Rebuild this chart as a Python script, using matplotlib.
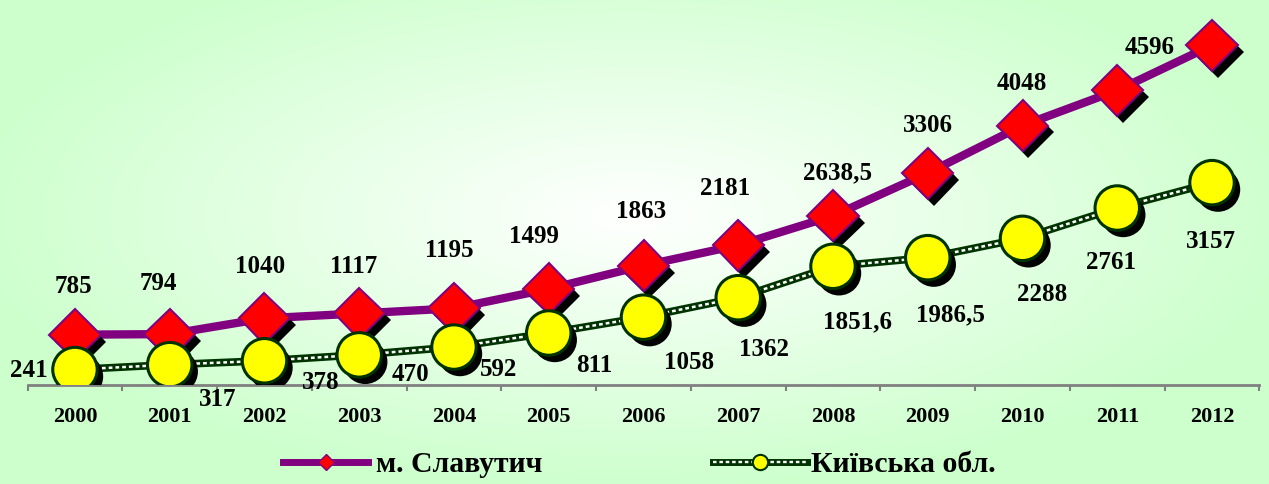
import numpy as np
import matplotlib
matplotlib.use("Agg")
import matplotlib.pyplot as plt
import matplotlib.patheffects as pe
from matplotlib.lines import Line2D
from matplotlib.legend_handler import HandlerTuple

# Data
years = ["2000", "2001", "2002", "2003", "2004", "2005", "2006",
         "2007", "2008", "2009", "2010", "2011", "2012"]
slavutych = [785, 794, 1040, 1117, 1195, 1499, 1863, 2181, 2638.5, 3306, 4048, 4596, 5300]
kyiv = [241, 317, 378, 470, 592, 811, 1058, 1362, 1851.6, 1986.5, 2288, 2761, 3157]
series_names = ["м. Славутич", "Київська обл."]

# Label offsets in pixels (dx, dy), dy positive = downwards
slav_offsets = [(-2, -48), (-11, -51), (-4, -52), (-6, -47), (-5, -58), (-15, -52), (-2, -54),
                (-13, -57), (4, -43), (0, -48), (-1, -42), (32, -43), (0, -52)]
kyiv_offsets = [(-46, 1), (48, 35), (56, 22), (51, 20), (45, 22), (46, 32), (46, 45),
                (26, 52), (24, 56), (23, 57), (20, 56), (-6, 54), (-1, 59)]

PURPLE = "#800080"
DGREEN = "#003300"
GRAY = "#808080"
SERIF = "Liberation Serif"


def fmt(v):
    return f"{v:g}".replace(".", ",")


W, H = 1269, 484
fig = plt.figure(figsize=(W / 100, H / 100), dpi=100)

# Background: radial gradient white -> light green
bg = fig.add_axes([0, 0, 1, 1], zorder=-10)
yy, xx = np.mgrid[0:H, 0:W]
d = np.sqrt(((xx - 630) / 680.0) ** 2 + ((yy - 215) / 280.0) ** 2)
t = np.clip(d, 0, 1)[..., None]
white = np.array([1.0, 1.0, 1.0])
green = np.array([204, 255, 204]) / 255.0
img = white * (1 - t) + green * t
bg.imshow(img, aspect="auto", extent=[0, W, H, 0])
bg.axis("off")

ax = fig.add_axes([27.6 / W, (H - 385) / H, 1231.8 / W, 385 / H])
ax.patch.set_alpha(0)
x = np.arange(len(years))

shadow = [pe.SimplePatchShadow(offset=(4.3, -5), shadow_rgbFace="black", alpha=1), pe.Normal()]

# Slavutych
ax.plot(x, slavutych, color=PURPLE, lw=6, zorder=2, solid_capstyle="round")
ax.plot(x, slavutych, ls="none", marker="D", ms=26, mfc="red", mec=PURPLE, mew=1.5,
        zorder=3, path_effects=shadow)

# Kyiv region (chain-like line)
ax.plot(x, kyiv, color=DGREEN, lw=5.5, zorder=4)
ax.plot(x, kyiv, color="white", lw=1.8, ls=(0, (1.5, 1.2)), zorder=4.1)
ax.plot(x, kyiv, ls="none", marker="o", ms=32, mfc="yellow", mec=DGREEN, mew=2.2,
        zorder=5, path_effects=shadow)

for i, v in enumerate(slavutych):
    dx, dy = slav_offsets[i]
    ax.annotate(fmt(v), (x[i], v), xytext=(dx, -dy), textcoords="offset pixels",
                ha="center", va="center", fontsize=18, fontweight="bold",
                family=SERIF, annotation_clip=False, zorder=6)
for i, v in enumerate(kyiv):
    dx, dy = kyiv_offsets[i]
    ax.annotate(fmt(v), (x[i], v), xytext=(dx, -dy), textcoords="offset pixels",
                ha="center", va="center", fontsize=18, fontweight="bold",
                family=SERIF, annotation_clip=False, zorder=6)

ax.set_xlim(-0.5, len(years) - 0.5)
ax.set_ylim(0, 6006)
for s in ["left", "top", "right"]:
    ax.spines[s].set_visible(False)
ax.spines["bottom"].set_color(GRAY)
ax.spines["bottom"].set_linewidth(2)
ax.set_yticks([])
ax.set_xticks(x)
ax.set_xticklabels(years, fontsize=16, fontweight="bold", family=SERIF)
ax.set_xticks(np.arange(-0.5, len(years), 1), minor=True)
ax.tick_params(axis="x", which="major", length=0, pad=15.5)
ax.tick_params(axis="x", which="minor", length=4.5, width=1.5, color=GRAY, direction="out")

# Legends
h1 = Line2D([], [], color=PURPLE, lw=5, marker="D", ms=8.5, mfc="red", mec=PURPLE, mew=1)
h2 = (Line2D([], [], color=DGREEN, lw=5),
      Line2D([], [], color="white", lw=1.7, ls=(0, (1.5, 1.2))),
      Line2D([], [], ls="none", marker="o", ms=11, mfc="yellow", mec=DGREEN, mew=1.5))
legend_font = {"family": SERIF, "weight": "bold", "size": 21.4}
leg1 = fig.legend([h1], [series_names[0]], loc="center left",
                  bbox_to_anchor=(283 / W, 1 - 465 / H), frameon=False, borderpad=0,
                  borderaxespad=0, handlelength=2.86, handletextpad=0.27, prop=legend_font)
leg2 = fig.legend([h2], [series_names[1]], loc="center left",
                  bbox_to_anchor=(713 / W, 1 - 465 / H), frameon=False, borderpad=0,
                  borderaxespad=0, handlelength=3.16, handletextpad=0.135, prop=legend_font,
                  handler_map={tuple: HandlerTuple(ndivide=1)})

fig.savefig("out.png", dpi=100)
